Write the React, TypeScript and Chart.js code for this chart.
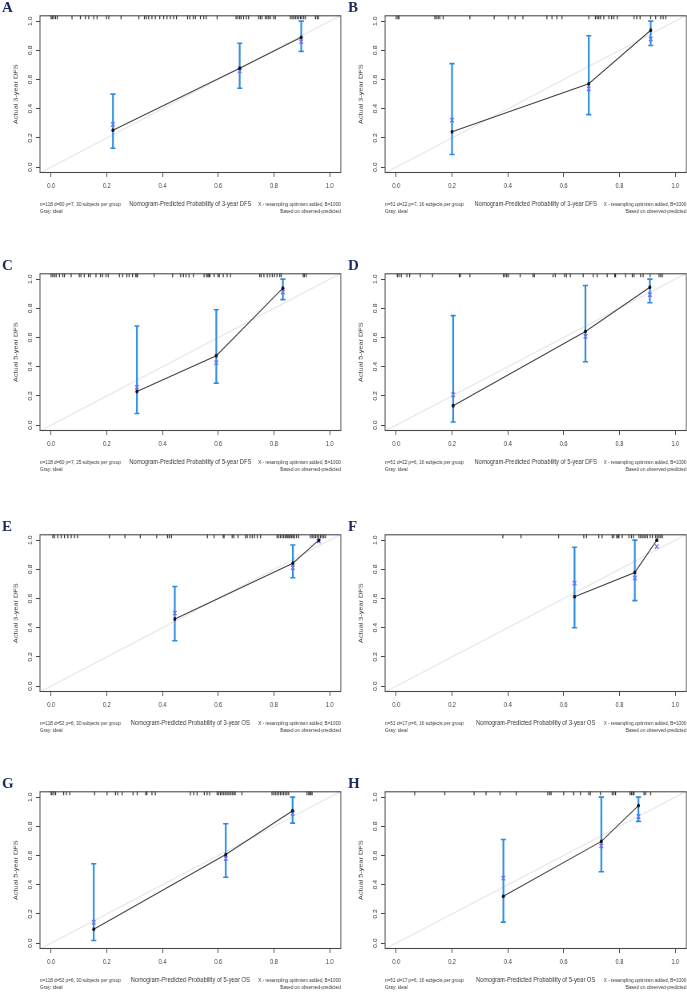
import { useEffect, useRef } from "react";
import { Chart, registerables } from "chart.js";

Chart.register(...registerables);

// ---- shared axis settings (R calibrate plots extend [0,1] by 4% on each side)
const AXIS_MIN = -0.04;
const AXIS_MAX = 1.04;
const TICK_VALUES = [0, 0.2, 0.4, 0.6, 0.8, 1.0];

// ---- A: 3-year DFS, training cohort
const A_PRED = [0.222, 0.677, 0.898];
const A_OBS = [0.253, 0.678, 0.889];
const A_CORR = [0.293, 0.66, 0.86];
const A_LO = [0.129, 0.54, 0.793];
const A_HI = [0.5, 0.849, 1.0];
const A_RUG = [0.0, 0.004, 0.01, 0.016, 0.022, 0.075, 0.105, 0.123, 0.135, 0.153, 0.165, 0.199, 0.207, 0.251, 0.315, 0.335, 0.342, 0.35, 0.362, 0.374, 0.39, 0.404, 0.416, 0.428, 0.44, 0.45, 0.49, 0.498, 0.51, 0.518, 0.536, 0.548, 0.557, 0.596, 0.664, 0.67, 0.677, 0.682, 0.691, 0.701, 0.709, 0.745, 0.751, 0.757, 0.769, 0.775, 0.781, 0.787, 0.799, 0.805, 0.859, 0.865, 0.871, 0.877, 0.883, 0.889, 0.895, 0.9, 0.907, 0.913, 0.949, 0.955, 0.96];

// ---- B: 3-year DFS, validation cohort
const B_PRED = [0.2, 0.69, 0.912];
const B_OBS = [0.242, 0.571, 0.938];
const B_CORR = [0.322, 0.536, 0.878];
const B_LO = [0.087, 0.36, 0.833];
const B_HI = [0.709, 0.9, 1.0];
const B_RUG = [0.0, 0.006, 0.01, 0.138, 0.144, 0.15, 0.156, 0.168, 0.264, 0.351, 0.402, 0.426, 0.454, 0.54, 0.558, 0.576, 0.594, 0.69, 0.714, 0.72, 0.726, 0.732, 0.744, 0.762, 0.772, 0.78, 0.792, 0.852, 0.862, 0.874, 0.912, 0.93, 0.948, 0.957, 0.966];

// ---- C: 5-year DFS, training cohort
const C_PRED = [0.308, 0.593, 0.832];
const C_OBS = [0.23, 0.476, 0.938];
const C_CORR = [0.259, 0.427, 0.912];
const C_LO = [0.08, 0.288, 0.86];
const C_HI = [0.679, 0.79, 1.0];
const C_RUG = [0.0, 0.006, 0.012, 0.018, 0.03, 0.042, 0.048, 0.072, 0.101, 0.107, 0.119, 0.134, 0.141, 0.161, 0.177, 0.185, 0.197, 0.205, 0.245, 0.257, 0.272, 0.28, 0.292, 0.304, 0.308, 0.31, 0.37, 0.436, 0.465, 0.475, 0.484, 0.495, 0.511, 0.549, 0.558, 0.563, 0.567, 0.57, 0.585, 0.599, 0.604, 0.618, 0.632, 0.644, 0.749, 0.754, 0.764, 0.776, 0.785, 0.794, 0.802, 0.811, 0.821, 0.826, 0.905, 0.909, 0.916];

// ---- D: 5-year DFS, validation cohort
const D_PRED = [0.204, 0.678, 0.909];
const D_OBS = [0.133, 0.642, 0.945];
const D_CORR = [0.208, 0.608, 0.894];
const D_LO = [0.022, 0.434, 0.838];
const D_HI = [0.75, 0.956, 1.0];
const D_RUG = [0.004, 0.01, 0.018, 0.038, 0.048, 0.086, 0.13, 0.226, 0.23, 0.264, 0.384, 0.39, 0.396, 0.402, 0.444, 0.49, 0.495, 0.562, 0.57, 0.603, 0.61, 0.624, 0.67, 0.706, 0.72, 0.756, 0.783, 0.786, 0.822, 0.846, 0.852, 0.876, 0.885, 0.91, 0.942, 0.948, 0.954];

// ---- E: 3-year OS, training cohort
const E_PRED = [0.444, 0.868, 0.961];
const E_OBS = [0.46, 0.842, 1.0];
const E_CORR = [0.5, 0.811, 0.993];
const E_LO = [0.311, 0.742, null];
const E_HI = [0.682, 0.967, null];
const E_RUG = [0.006, 0.012, 0.024, 0.036, 0.048, 0.06, 0.072, 0.084, 0.095, 0.209, 0.265, 0.32, 0.379, 0.418, 0.424, 0.432, 0.561, 0.585, 0.618, 0.621, 0.65, 0.656, 0.671, 0.698, 0.704, 0.714, 0.722, 0.73, 0.74, 0.752, 0.811, 0.817, 0.823, 0.829, 0.835, 0.841, 0.845, 0.85, 0.854, 0.859, 0.864, 0.869, 0.874, 0.881, 0.889, 0.931, 0.937, 0.943, 0.949, 0.955, 0.961, 0.967, 0.973, 0.979, 0.985];

// ---- F: 3-year OS, validation cohort
const F_PRED = [0.639, 0.855, 0.934];
const F_OBS = [0.613, 0.779, 1.0];
const F_CORR = [0.706, 0.741, 0.956];
const F_LO = [0.4, 0.586, null];
const F_HI = [0.951, 1.0, null];
const F_RUG = [0.382, 0.447, 0.582, 0.672, 0.682, 0.726, 0.738, 0.774, 0.78, 0.79, 0.795, 0.798, 0.81, 0.834, 0.843, 0.85, 0.87, 0.876, 0.882, 0.888, 0.894, 0.9, 0.91, 0.918, 0.93, 0.936, 0.942, 0.948, 0.954];

// ---- G: 5-year OS, training cohort
const G_PRED = [0.153, 0.627, 0.867];
const G_OBS = [0.096, 0.607, 0.907];
const G_CORR = [0.142, 0.58, 0.889];
const G_LO = [0.018, 0.451, 0.822];
const G_HI = [0.544, 0.818, 1.0];
const G_RUG = [0.0, 0.003, 0.01, 0.016, 0.045, 0.055, 0.067, 0.156, 0.201, 0.231, 0.239, 0.255, 0.294, 0.309, 0.339, 0.344, 0.362, 0.374, 0.5, 0.512, 0.524, 0.55, 0.56, 0.569, 0.596, 0.602, 0.608, 0.614, 0.62, 0.626, 0.632, 0.638, 0.644, 0.65, 0.656, 0.661, 0.685, 0.793, 0.799, 0.805, 0.811, 0.817, 0.823, 0.829, 0.835, 0.841, 0.847, 0.853, 0.919, 0.925, 0.928, 0.933, 0.937];

// ---- H: 5-year OS, validation cohort
const H_PRED = [0.384, 0.735, 0.868];
const H_OBS = [0.321, 0.697, 0.942];
const H_CORR = [0.445, 0.666, 0.867];
const H_LO = [0.144, 0.489, 0.834];
const H_HI = [0.71, 1.0, 1.0];
const H_RUG = [0.066, 0.174, 0.279, 0.322, 0.372, 0.43, 0.543, 0.55, 0.555, 0.6, 0.636, 0.66, 0.69, 0.696, 0.732, 0.774, 0.78, 0.786, 0.838, 0.843, 0.848, 0.852, 0.888, 0.894, 0.912];

// ---- text
const LETTERS = ["A", "B", "C", "D", "E", "F", "G", "H"];
const Y_TITLES = [
  "Actual 3-year DFS", "Actual 3-year DFS",
  "Actual 5-year DFS", "Actual 5-year DFS",
  "Actual 3-year DFS", "Actual 3-year DFS",
  "Actual 5-year DFS", "Actual 5-year DFS",
];
const X_TITLES = [
  "Nomogram-Predicted Probability of 3-year DFS", "Nomogram-Predicted Probability of 3-year DFS",
  "Nomogram-Predicted Probability of 5-year DFS", "Nomogram-Predicted Probability of 5-year DFS",
  "Nomogram-Predicted Probability of 3-year OS", "Nomogram-Predicted Probability of 3-year OS",
  "Nomogram-Predicted Probability of 5-year OS", "Nomogram-Predicted Probability of 5-year OS",
];
const SAMPLE_NOTES = [
  "n=118 d=60 p=7, 30 subjects per group", "n=51 d=22 p=7, 16 subjects per group",
  "n=118 d=60 p=7, 25 subjects per group", "n=51 d=22 p=6, 16 subjects per group",
  "n=118 d=52 p=6, 30 subjects per group", "n=51 d=17 p=6, 16 subjects per group",
  "n=118 d=52 p=6, 30 subjects per group", "n=51 d=17 p=6, 16 subjects per group",
];
const IDEAL_NOTE = "Gray: ideal";
const BOOT_NOTE = "X - resampling optimism added, B=1000";
const BASIS_NOTE = "Based on observed-predicted";

type Panel = {
  letter: string; yTitle: string; xTitle: string; note: string;
  pred: number[]; obs: number[]; corr: number[];
  lo: (number | null)[]; hi: (number | null)[]; rug: number[];
  col: number; row: number;
};

const SERIES = [
  [A_PRED, A_OBS, A_CORR, A_LO, A_HI, A_RUG],
  [B_PRED, B_OBS, B_CORR, B_LO, B_HI, B_RUG],
  [C_PRED, C_OBS, C_CORR, C_LO, C_HI, C_RUG],
  [D_PRED, D_OBS, D_CORR, D_LO, D_HI, D_RUG],
  [E_PRED, E_OBS, E_CORR, E_LO, E_HI, E_RUG],
  [F_PRED, F_OBS, F_CORR, F_LO, F_HI, F_RUG],
  [G_PRED, G_OBS, G_CORR, G_LO, G_HI, G_RUG],
  [H_PRED, H_OBS, H_CORR, H_LO, H_HI, H_RUG],
] as any[];

const PANELS: Panel[] = LETTERS.map((letter, i) => ({
  letter,
  yTitle: Y_TITLES[i],
  xTitle: X_TITLES[i],
  note: SAMPLE_NOTES[i],
  pred: SERIES[i][0], obs: SERIES[i][1], corr: SERIES[i][2],
  lo: SERIES[i][3], hi: SERIES[i][4], rug: SERIES[i][5],
  col: i % 2,
  row: Math.floor(i / 2),
}));

// ---- layout (the figure is drawn horizontally condensed by SX)
const SX = 0.8;
const Y_AXIS_W = 50;
const AREA_W = 376;
const AREA_H = 162;
const PAD_TOP = 2;
const X_AXIS_H = 45;
const CANVAS_H = PAD_TOP + AREA_H + X_AXIS_H;
const COL_LEFT = [0, 345.2];
const COL_RIGHT_PAD = [4, 2];
const ROW_AREA_TOP = [11, 269, 530, 787];
const LETTER_LEFT = [2, 348];

const FONT = '"Liberation Sans", Arial, sans-serif';
const TEXT_COLOR = "#383838";
const AXIS_COLOR = "#4a4a4a";
const CI_BLUE = "#2b8ce0";
const CORR_BLUE = "#6f6ff4";
const RUG_LEN_PX = 4;
const RUG_Y = AXIS_MAX - (RUG_LEN_PX / 2 / AREA_H) * (AXIS_MAX - AXIS_MIN);
const TICK_FONT = 7;

const framePlugin = {
  id: "calFrame",
  afterDatasetsDraw(chart: any) {
    const { ctx, chartArea: a } = chart;
    ctx.save();
    ctx.strokeStyle = AXIS_COLOR;
    ctx.lineWidth = 1.1;
    ctx.strokeRect(a.left, a.top + 0.5, a.right - a.left, a.bottom - a.top - 1);
    ctx.restore();
  },
  afterDraw(chart: any, _args: any, opts: any) {
    const { ctx, chartArea: a } = chart;
    ctx.save();
    ctx.fillStyle = TEXT_COLOR;
    ctx.font = `5.8px ${FONT}`;
    ctx.textBaseline = "middle";
    ctx.textAlign = "left";
    ctx.fillText(opts.note, a.left, a.bottom + 31);
    ctx.fillText(IDEAL_NOTE, a.left, a.bottom + 38.5);
    ctx.textAlign = "right";
    ctx.fillText(BOOT_NOTE, a.right, a.bottom + 31);
    ctx.fillText(BASIS_NOTE, a.right, a.bottom + 38.5);
    ctx.restore();
  },
};

const fixedTicks = (scale: any) => {
  scale.ticks = TICK_VALUES.map((v) => ({ value: v }));
};

function buildConfig(p: Panel) {
  const ciSegments: any[] = [];
  const ciCaps: any[] = [];
  p.pred.forEach((x, i) => {
    const lo = p.lo[i];
    const hi = p.hi[i];
    if (lo == null || hi == null) return;
    ciSegments.push({ x, y: lo }, { x, y: hi }, { x, y: null });
    ciCaps.push({ x, y: lo }, { x, y: hi });
  });

  return {
    type: "scatter",
    data: {
      datasets: [
        {
          type: "line",
          label: "Ideal",
          data: [{ x: AXIS_MIN, y: AXIS_MIN }, { x: AXIS_MAX, y: AXIS_MAX }],
          borderColor: "#e8e8e8",
          borderWidth: 1.3,
          pointRadius: 0,
          order: 6,
        },
        {
          type: "scatter",
          label: "Predicted distribution",
          data: p.rug.map((x) => ({ x, y: RUG_Y })),
          pointStyle: "line",
          pointRotation: 90,
          pointRadius: RUG_LEN_PX / 2,
          pointBorderColor: "#2a2a2a",
          pointBorderWidth: 1.2,
          order: 5,
        },
        {
          type: "line",
          label: "CI",
          data: ciSegments,
          borderColor: CI_BLUE,
          borderWidth: 2.2,
          pointRadius: 0,
          spanGaps: false,
          order: 4,
        },
        {
          type: "scatter",
          label: "CI caps",
          data: ciCaps,
          pointStyle: "line",
          pointRadius: 3.2,
          pointBorderColor: CI_BLUE,
          pointBorderWidth: 1.6,
          order: 3,
        },
        {
          type: "scatter",
          label: "Bias-corrected",
          data: p.pred.map((x, i) => ({ x, y: p.corr[i] })),
          pointStyle: "crossRot",
          pointRadius: 3.1,
          pointBorderColor: CORR_BLUE,
          pointBorderWidth: 1.4,
          order: 2,
        },
        {
          type: "line",
          label: "Apparent",
          data: p.pred.map((x, i) => ({ x, y: p.obs[i] })),
          borderColor: "#3a3a3a",
          borderWidth: 1.1,
          pointRadius: 1.9,
          pointStyle: "circle",
          pointBackgroundColor: "#111",
          pointBorderColor: "#111",
          pointBorderWidth: 0,
          order: 1,
        },
      ],
    },
    options: {
      animation: false,
      responsive: false,
      devicePixelRatio: 1,
      events: [],
      layout: {
        autoPadding: false,
        padding: { top: PAD_TOP, left: 0, bottom: 0, right: COL_RIGHT_PAD[p.col] },
      },
      plugins: {
        legend: { display: false },
        tooltip: { enabled: false },
        calFrame: { note: p.note },
      },
      scales: {
        x: {
          type: "linear",
          min: AXIS_MIN,
          max: AXIS_MAX,
          afterBuildTicks: fixedTicks,
          afterFit: (s: any) => { s.height = X_AXIS_H; },
          ticks: {
            autoSkip: false,
            minRotation: 0,
            maxRotation: 0,
            padding: 4.8,
            color: TEXT_COLOR,
            font: { family: FONT, size: TICK_FONT },
            callback: (v: any) => Number(v).toFixed(1),
          },
          grid: { drawOnChartArea: false, drawTicks: true, tickLength: 4, color: AXIS_COLOR, lineWidth: 1 },
          border: { display: false },
          title: {
            display: true,
            text: p.xTitle,
            color: TEXT_COLOR,
            font: { family: FONT, size: 7.3 },
            padding: { top: 0, bottom: 10.1 },
          },
        },
        y: {
          type: "linear",
          min: AXIS_MIN,
          max: AXIS_MAX,
          afterBuildTicks: fixedTicks,
          afterFit: (s: any) => { s.width = Y_AXIS_W; },
          ticks: {
            autoSkip: false,
            minRotation: 90,
            maxRotation: 90,
            crossAlign: "center",
            padding: 2.1,
            color: TEXT_COLOR,
            font: { family: FONT, size: TICK_FONT },
            callback: (v: any) => Number(v).toFixed(1),
          },
          grid: { drawOnChartArea: false, drawTicks: true, tickLength: 5, color: AXIS_COLOR, lineWidth: 1 },
          border: { display: false },
          title: {
            display: true,
            text: p.yTitle,
            color: TEXT_COLOR,
            font: { family: FONT, size: 7.3 },
            padding: { top: 15.6, bottom: 0 },
          },
        },
      },
    },
    plugins: [framePlugin],
  };
}

function CalibrationPanel({ panel }: { panel: Panel }) {
  const ref = useRef<HTMLCanvasElement>(null);
  useEffect(() => {
    const chart = new Chart(ref.current as HTMLCanvasElement, buildConfig(panel) as any);
    return () => chart.destroy();
  }, [panel]);

  const widthInt = Y_AXIS_W + AREA_W + COL_RIGHT_PAD[panel.col];
  const areaTop = ROW_AREA_TOP[panel.row];
  return (
    <>
      <canvas
        ref={ref}
        width={widthInt}
        height={CANVAS_H}
        style={{
          position: "absolute",
          left: COL_LEFT[panel.col],
          top: areaTop - PAD_TOP,
          width: widthInt * SX,
          height: CANVAS_H,
        }}
      />
      <div
        style={{
          position: "absolute",
          left: LETTER_LEFT[panel.col],
          top: areaTop - 10.6,
          fontFamily: '"Liberation Serif", "Times New Roman", serif',
          fontWeight: 700,
          fontSize: 15,
          lineHeight: "15px",
          color: "#1c2b5c",
        }}
      >
        {panel.letter}
      </div>
    </>
  );
}

export default function App() {
  return (
    <div
      style={{
        position: "absolute",
        left: 0,
        top: 0,
        width: 687,
        height: 992,
        overflow: "hidden",
        background: "#ffffff",
      }}
    >
      {PANELS.map((p) => (
        <CalibrationPanel key={p.letter} panel={p} />
      ))}
    </div>
  );
}
